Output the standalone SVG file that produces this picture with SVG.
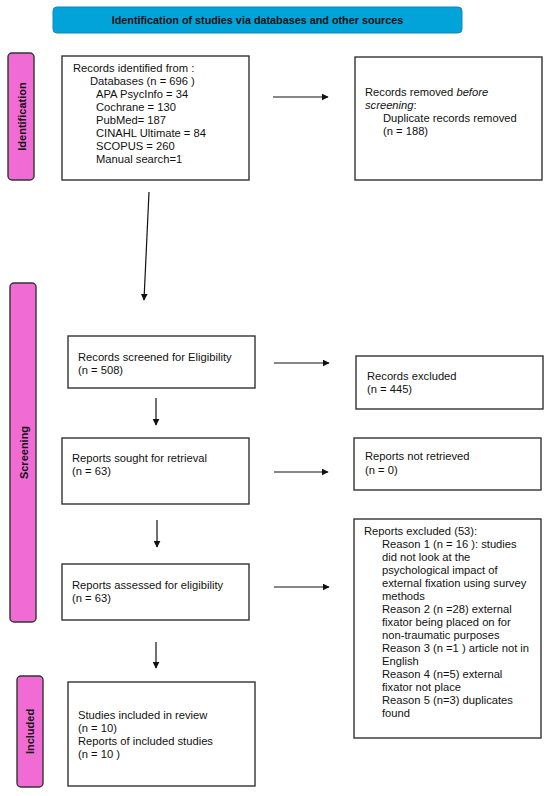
<svg xmlns="http://www.w3.org/2000/svg" width="550" height="796" viewBox="0 0 550 796">
<style>
text{font-family:"Liberation Sans",Arial,sans-serif;font-size:11.2px;fill:#111}
.box{fill:#fff;stroke:#333;stroke-width:1.4}
.side{fill:#F06CD4;stroke:#333;stroke-width:1.4}
.sidet{font-weight:bold;font-size:11px;text-anchor:middle}
.conn{stroke:#111;stroke-width:1.2;fill:none;marker-end:url(#ah)}
</style>
<defs>
<marker id="ah" viewBox="0 0 10 10" refX="9" refY="5" markerWidth="7" markerHeight="7" markerUnits="userSpaceOnUse" orient="auto">
<path d="M0,0 L10,5 L0,10 z" fill="#111"/>
</marker>
</defs>
<rect width="550" height="796" fill="#fff"/>
<g id="banner">
<rect x="53" y="7" width="409" height="26" rx="4" fill="#02A3D9" stroke="#1288B5" stroke-width="1"/>
<text x="257.5" y="24" text-anchor="middle" style="font-weight:bold;font-size:10.8px">Identification of studies via databases and other sources</text>
</g>
<g id="side-identification">
<rect class="side" x="8" y="53" width="26" height="127" rx="4"/>
<text class="sidet" transform="translate(25.5,116.5) rotate(-90)">Identification</text>
</g>
<g id="side-screening">
<rect class="side" x="10" y="283" width="26" height="339" rx="4"/>
<text class="sidet" transform="translate(27.5,452.5) rotate(-90)">Screening</text>
</g>
<g id="side-included">
<rect class="side" x="17" y="676" width="26" height="111" rx="4"/>
<text class="sidet" transform="translate(34,731.5) rotate(-90)">Included</text>
</g>
<g id="records-identified">
<rect class="box" x="62" y="56" width="187" height="124"/>
<text x="73" y="72">Records identified from :</text>
<text x="90" y="85">Databases (n = 696 )</text>
<text x="96" y="98">APA PsycInfo = 34</text>
<text x="96" y="111">Cochrane = 130</text>
<text x="96" y="124">PubMed= 187</text>
<text x="96" y="137">CINAHL Ultimate = 84</text>
<text x="96" y="150">SCOPUS = 260</text>
<text x="96" y="163">Manual search=1</text>
</g>
<g id="records-removed">
<rect class="box" x="355" y="57" width="187" height="123"/>
<text x="365" y="96">Records removed <tspan font-style="italic">before</tspan></text>
<text x="365" y="109"><tspan font-style="italic">screening</tspan>:</text>
<text x="383" y="122">Duplicate records removed</text>
<text x="383" y="135">(n = 188)</text>
</g>
<g id="records-screened">
<rect class="box" x="68" y="336" width="187" height="52"/>
<text x="78" y="361">Records screened for Eligibility</text>
<text x="78" y="374">(n = 508)</text>
</g>
<g id="records-excluded">
<rect class="box" x="356" y="356" width="187" height="53"/>
<text x="367" y="380">Records excluded</text>
<text x="367" y="393">(n = 445)</text>
</g>
<g id="reports-sought">
<rect class="box" x="62" y="438" width="187" height="66"/>
<text x="72" y="462">Reports sought for retrieval</text>
<text x="72" y="475">(n = 63)</text>
</g>
<g id="reports-not-retrieved">
<rect class="box" x="354" y="438" width="187" height="52"/>
<text x="365" y="460">Reports not retrieved</text>
<text x="365" y="474">(n = 0)</text>
</g>
<g id="reports-assessed">
<rect class="box" x="62" y="564" width="187" height="56"/>
<text x="72" y="589">Reports assessed for eligibility</text>
<text x="72" y="602">(n = 63)</text>
</g>
<g id="reports-excluded">
<rect class="box" x="354" y="519" width="187" height="219"/>
<text x="364" y="535">Reports excluded (53):</text>
<text x="382" y="548">Reason 1 (n = 16 ): studies</text>
<text x="382" y="561">did not look at the</text>
<text x="382" y="574">psychological impact of</text>
<text x="382" y="587">external fixation using survey</text>
<text x="382" y="600">methods</text>
<text x="382" y="613">Reason 2 (n =28) external</text>
<text x="382" y="626">fixator being placed on for</text>
<text x="382" y="639">non-traumatic purposes</text>
<text x="382" y="652">Reason 3 (n =1 ) article not in</text>
<text x="382" y="665">English</text>
<text x="382" y="678">Reason 4 (n=5) external</text>
<text x="382" y="691">fixator not place</text>
<text x="382" y="704">Reason 5 (n=3) duplicates</text>
<text x="382" y="717">found</text>
</g>
<g id="included">
<rect class="box" x="68" y="682" width="187" height="104"/>
<text x="78" y="719">Studies included in review</text>
<text x="78" y="732">(n = 10)</text>
<text x="78" y="745">Reports of included studies</text>
<text x="78" y="758">(n = 10 )</text>
</g>
<g id="connectors">
<line class="conn" x1="273" y1="97" x2="328" y2="97"/>
<line class="conn" x1="149" y1="192" x2="144" y2="300"/>
<line class="conn" x1="274" y1="363" x2="329" y2="363"/>
<line class="conn" x1="156" y1="398" x2="156" y2="425"/>
<line class="conn" x1="274" y1="472" x2="328" y2="472"/>
<line class="conn" x1="157" y1="520" x2="157" y2="547"/>
<line class="conn" x1="274" y1="587" x2="329" y2="587"/>
<line class="conn" x1="156" y1="642" x2="156" y2="668"/>
</g>
</svg>
